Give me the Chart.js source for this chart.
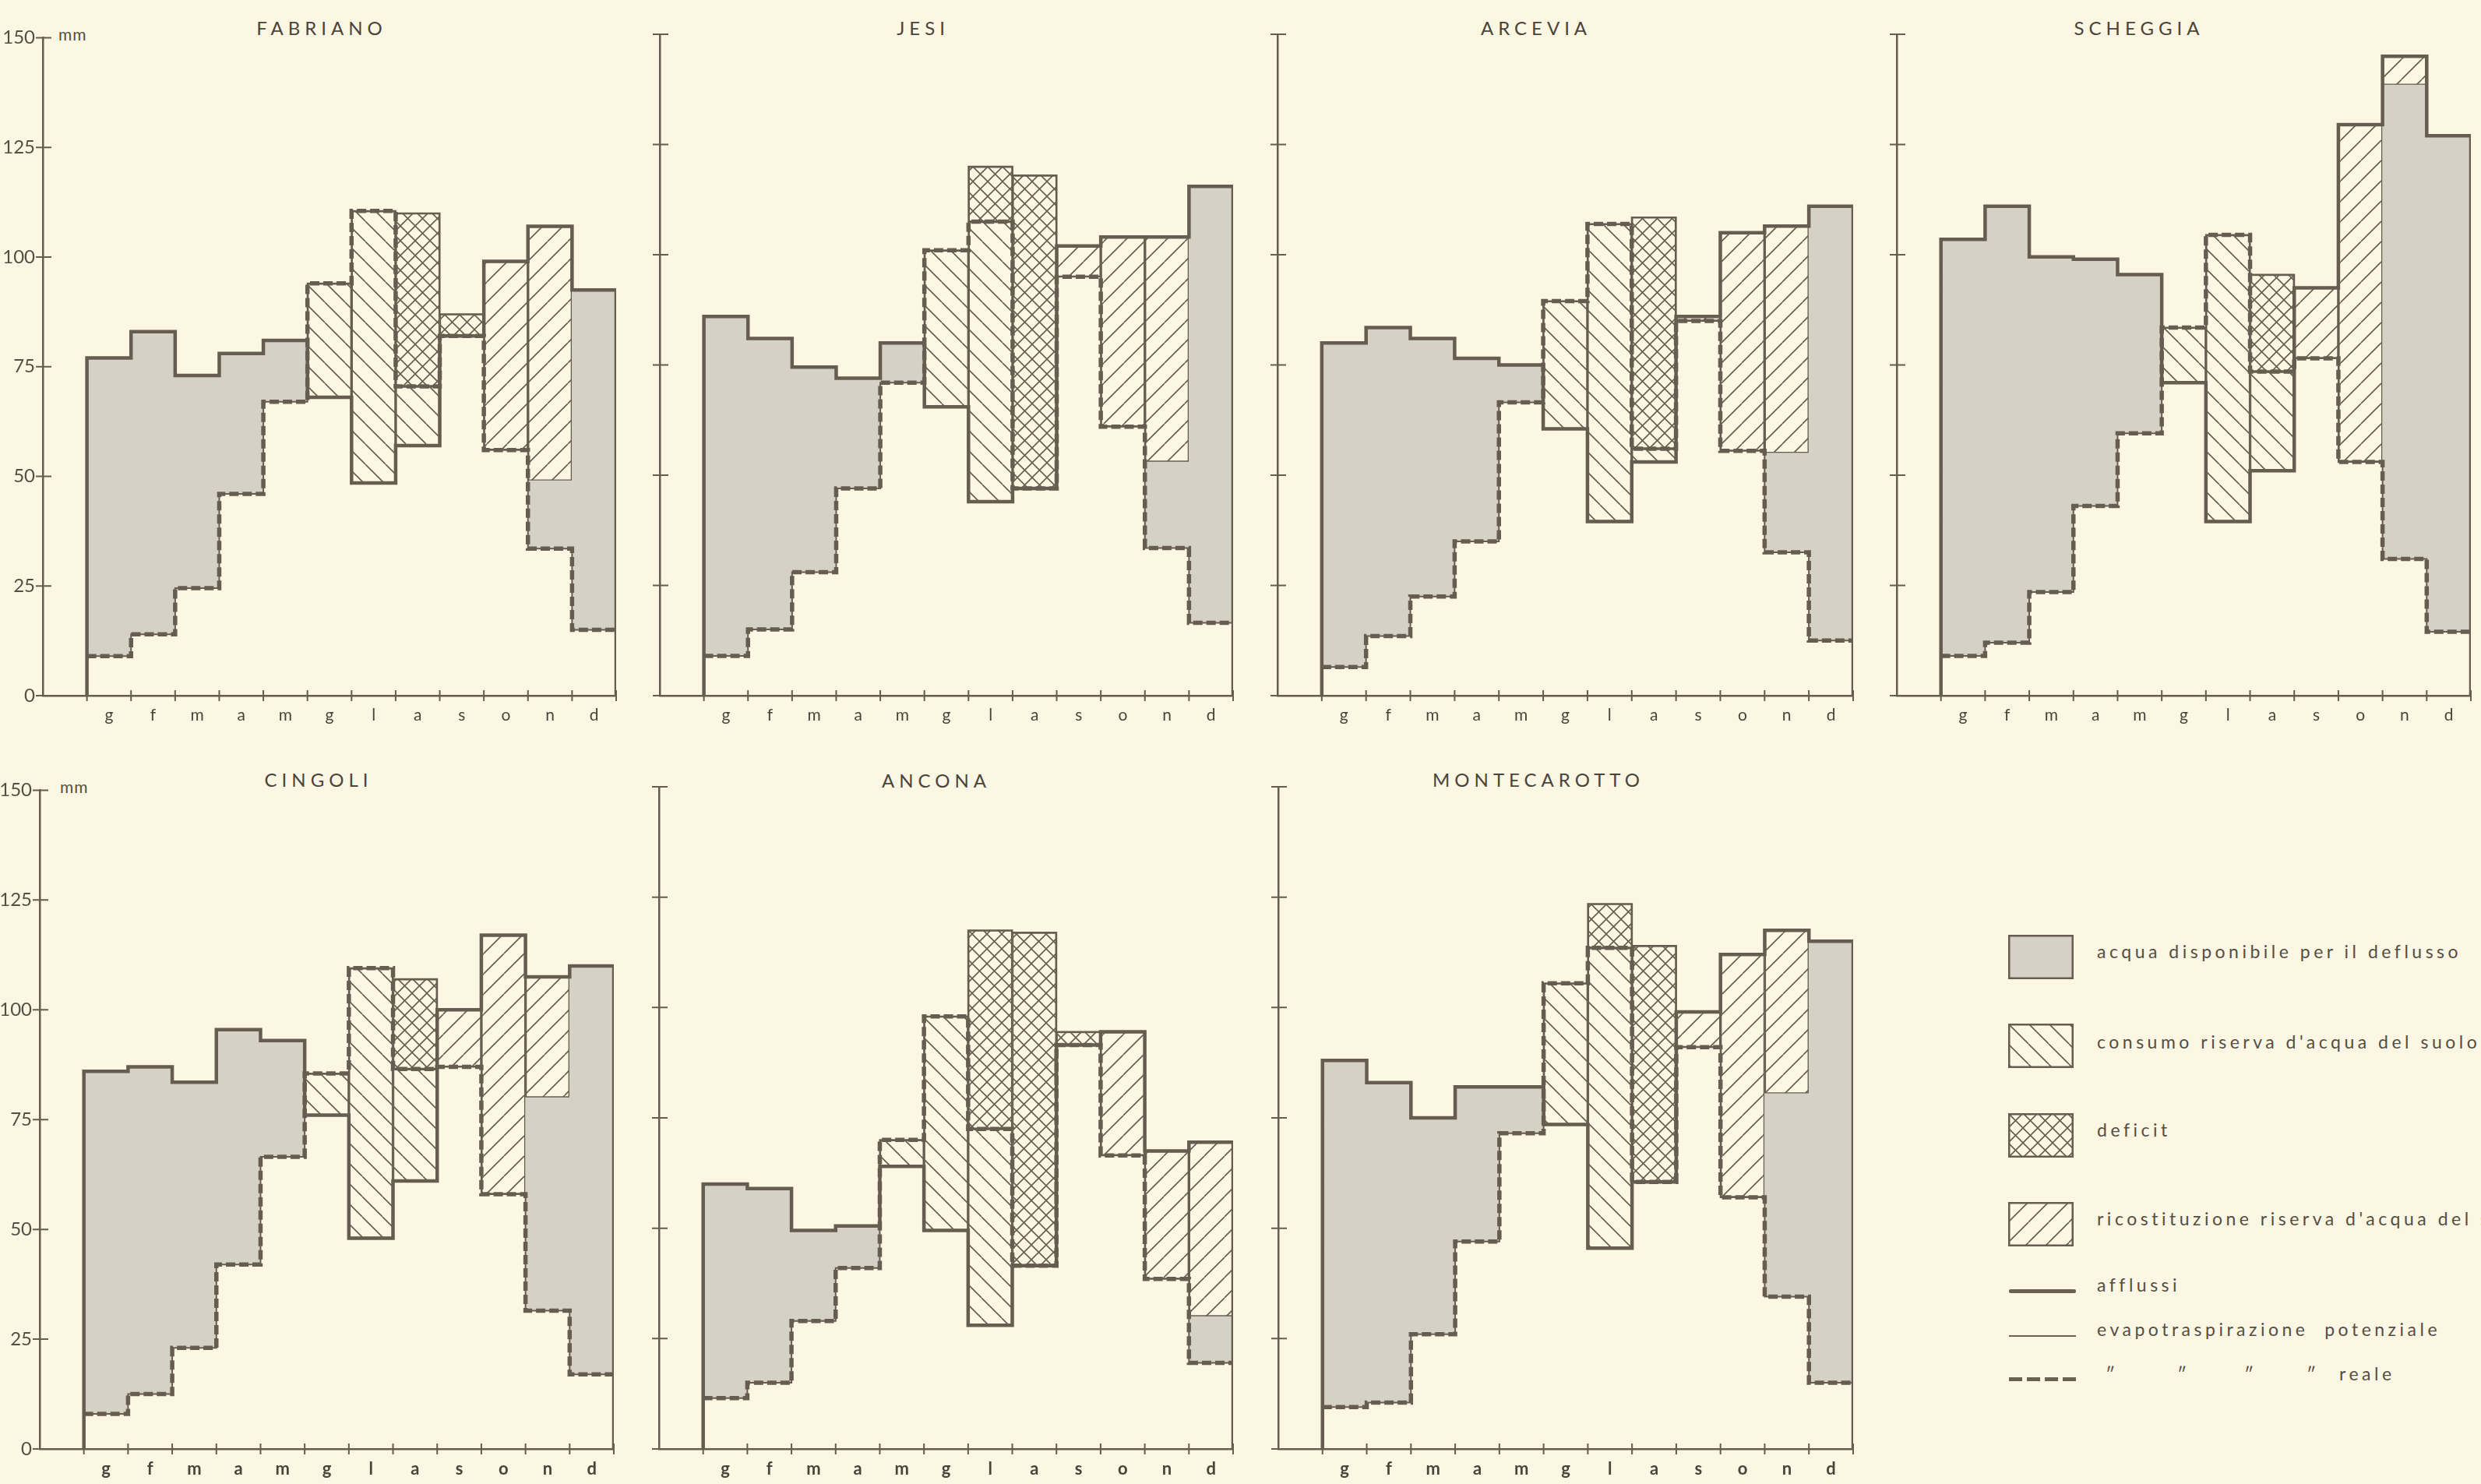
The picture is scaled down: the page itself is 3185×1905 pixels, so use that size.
<!DOCTYPE html>
<html lang="it">
<head>
<meta charset="UTF-8">
<title>Bilancio idrico - stazioni delle Marche</title>
<script src="https://cdn.jsdelivr.net/npm/chart.js"></script>
<style>
  body { margin: 0; width: 3185px; height: 1905px; overflow: hidden; position: relative;
         background: #fbf7e3; font-family: Lato, "Open Sans", sans-serif; color: #554e44; }
  canvas { position: absolute; }
  .title { position: absolute; transform: translate(-50%, -50%); font-size: 24px; letter-spacing: 6px; white-space: nowrap; color: #4a443b; }
  .unit { position: absolute; transform: translateY(-50%); font-size: 21px; letter-spacing: 1px; }
  .lt { position: absolute; transform: translateY(-50%); font-size: 23px; letter-spacing: 4.5px; white-space: nowrap; }
  .ln { position: absolute; left: 2579px; width: 86px; }
</style>
</head>
<body>

<div class="title" style="left:413px;top:35px">FABRIANO</div>
<div class="title" style="left:1185px;top:35px">JESI</div>
<div class="title" style="left:1972px;top:35px">ARCEVIA</div>
<div class="title" style="left:2746px;top:35px">SCHEGGIA</div>
<div class="title" style="left:409px;top:1000px">CINGOLI</div>
<div class="title" style="left:1202px;top:1001px">ANCONA</div>
<div class="title" style="left:1975px;top:1000px">MONTECAROTTO</div>

<div class="unit" style="left:75px;top:43px">mm</div>
<div class="unit" style="left:77px;top:1009px">mm</div>

<!-- legenda -->
<canvas id="sw0" width="84" height="57" style="left:2578px;top:1200px"></canvas>
<div class="lt" style="left:2692px;top:1221px">acqua disponibile per il deflusso</div>
<canvas id="sw1" width="84" height="57" style="left:2578px;top:1314px"></canvas>
<div class="lt" style="left:2692px;top:1337px">consumo riserva d'acqua del suolo</div>
<canvas id="sw2" width="84" height="57" style="left:2578px;top:1429px"></canvas>
<div class="lt" style="left:2692px;top:1450px">deficit</div>
<canvas id="sw3" width="84" height="57" style="left:2578px;top:1543px"></canvas>
<div class="lt" style="left:2692px;top:1564px">ricostituzione riserva d'acqua del suolo</div>

<div class="ln" style="top:1655px;height:5px;background:#6a6154;border-radius:2px"></div>
<div class="lt" style="left:2692px;top:1649px">afflussi</div>
<div class="ln" style="top:1714px;height:2px;background:#6a6154"></div>
<div class="lt" style="left:2692px;top:1706px">evapotraspirazione&nbsp; potenziale</div>
<div class="ln" style="top:1768px;height:5px;background:repeating-linear-gradient(to right,#6a6154 0 17px,transparent 17px 23px)"></div>
<div class="lt" style="left:2703px;top:1763px">″</div>
<div class="lt" style="left:2795px;top:1763px">″</div>
<div class="lt" style="left:2881px;top:1763px">″</div>
<div class="lt" style="left:2961px;top:1763px">″</div>
<div class="lt" style="left:3003px;top:1763px">reale</div>

<script>
const BG = '#fbf7e3';
const INK = '#665d50';
const GREY = '#d5d1c5';

const months = ['g', 'f', 'm', 'a', 'm', 'g', 'l', 'a', 's', 'o', 'n', 'd'];
const yTicks = [0, 25, 50, 75, 100, 125, 150];

// valori mensili in mm: afflussi, evapotraspirazione potenziale e reale,
// quota degli afflussi che va a ricostituire la riserva del suolo
const fabrianoAfflussi  = [77, 83, 73, 78, 81, 68, 48.5, 57, 82, 99, 107, 92.5];
const fabrianoPotenz    = [9, 14, 24.5, 46, 67, 94, 110.5, 110, 87, 56, 33.5, 15];
const fabrianoReale     = [9, 14, 24.5, 46, 67, 94, 110.5, 70.5, 82, 56, 33.5, 15];
const fabrianoRicost    = [0, 0, 0, 0, 0, 0, 0, 0, 0, 43, 58, 0];

const jesiAfflussi      = [86, 81, 74.5, 72, 80, 65.5, 44, 47, 102, 104, 104, 115.5];
const jesiPotenz        = [9, 15, 28, 47, 71, 101, 120, 118, 95, 61, 33.5, 16.5];
const jesiReale         = [9, 15, 28, 47, 71, 101, 107.5, 47, 95, 61, 33.5, 16.5];
const jesiRicost        = [0, 0, 0, 0, 0, 0, 0, 0, 7, 43, 51, 0];

const arceviaAfflussi   = [80, 83.5, 81, 76.5, 75, 60.5, 39.5, 53, 86, 105, 106.5, 111];
const arceviaPotenz     = [6.5, 13.5, 22.5, 35, 66.5, 89.5, 107, 108.5, 85, 55.5, 32.5, 12.5];
const arceviaReale      = [6.5, 13.5, 22.5, 35, 66.5, 89.5, 107, 56, 85, 55.5, 32.5, 12.5];
const arceviaRicost     = [0, 0, 0, 0, 0, 0, 0, 0, 1, 49.5, 51.5, 0];

const scheggiaAfflussi  = [103.5, 111, 99.5, 99, 95.5, 71, 39.5, 51, 92.5, 129.5, 145, 127];
const scheggiaPotenz    = [9, 12, 23.5, 43, 59.5, 83.5, 104.5, 95.5, 76.5, 53, 31, 14.5];
const scheggiaReale     = [9, 12, 23.5, 43, 59.5, 83.5, 104.5, 73.5, 76.5, 53, 31, 14.5];
const scheggiaRicost    = [0, 0, 0, 0, 0, 0, 0, 0, 16, 76.5, 6.5, 0];

const cingoliAfflussi   = [86, 87, 83.5, 95.5, 93, 76, 48, 61, 100, 117, 107.5, 110];
const cingoliPotenz     = [8, 12.5, 23, 42, 66.5, 85.5, 109.5, 107, 87, 58, 31.5, 17];
const cingoliReale      = [8, 12.5, 23, 42, 66.5, 85.5, 109.5, 86.5, 87, 58, 31.5, 17];
const cingoliRicost     = [0, 0, 0, 0, 0, 0, 0, 0, 13, 59, 27.5, 0];

const anconaAfflussi    = [60, 59, 49.5, 50.5, 64, 49.5, 28, 41.5, 91.5, 94.5, 67.5, 69.5];
const anconaPotenz      = [11.5, 15, 29, 41, 70, 98, 117.5, 117, 94.5, 66.5, 38.5, 19.5];
const anconaReale       = [11.5, 15, 29, 41, 70, 98, 72.5, 41.5, 91.5, 66.5, 38.5, 19.5];
const anconaRicost      = [0, 0, 0, 0, 0, 0, 0, 0, 0, 28, 29, 39.5];

const montecAfflussi    = [88, 83, 75, 82, 82, 73.5, 45.5, 60.5, 99, 112, 117.5, 115];
const montecPotenz      = [9.5, 10.5, 26, 47, 71.5, 105.5, 123.5, 114, 91, 57, 34.5, 15];
const montecReale       = [9.5, 10.5, 26, 47, 71.5, 105.5, 113.5, 60.5, 91, 57, 34.5, 15];
const montecRicost      = [0, 0, 0, 0, 0, 0, 0, 0, 8, 55, 37, 0];

const stations = [
  { P: fabrianoAfflussi, PE: fabrianoPotenz, AE: fabrianoReale, R: fabrianoRicost },
  { P: jesiAfflussi, PE: jesiPotenz, AE: jesiReale, R: jesiRicost },
  { P: arceviaAfflussi, PE: arceviaPotenz, AE: arceviaReale, R: arceviaRicost },
  { P: scheggiaAfflussi, PE: scheggiaPotenz, AE: scheggiaReale, R: scheggiaRicost },
  { P: cingoliAfflussi, PE: cingoliPotenz, AE: cingoliReale, R: cingoliRicost },
  { P: anconaAfflussi, PE: anconaPotenz, AE: anconaReale, R: anconaRicost },
  { P: montecAfflussi, PE: montecPotenz, AE: montecReale, R: montecRicost },
];

// posizione dell'asse y, del valore 150 e larghezza/altezza dell'area dati
const panels = [
  { axisX: 55,   top: 44,   w: 736, h: 849, labels: true,  bold: false },
  { axisX: 847,  top: 44,   w: 736, h: 849, labels: false, bold: false },
  { axisX: 1640, top: 44,   w: 739, h: 849, labels: false, bold: false },
  { axisX: 2435, top: 44,   w: 737, h: 849, labels: false, bold: false },
  { axisX: 51,   top: 1010, w: 737, h: 850, labels: true,  bold: true },
  { axisX: 846,  top: 1010, w: 737, h: 850, labels: false, bold: true },
  { axisX: 1641, top: 1010, w: 738, h: 850, labels: false, bold: true },
];

const YW = 54, PT = 20, PR = 12, XH = 48;

function hatch(kind, size) {
  const c = document.createElement('canvas');
  c.width = c.height = size;
  const g = c.getContext('2d');
  g.fillStyle = BG;
  g.fillRect(0, 0, size, size);
  g.strokeStyle = INK;
  g.lineWidth = 1.6;
  g.beginPath();
  for (const k of [-size, 0, size]) {
    if (kind !== '/') { g.moveTo(k, 0); g.lineTo(k + size, size); }
    if (kind !== '\\') { g.moveTo(k, size); g.lineTo(k + size, 0); }
  }
  g.stroke();
  return g.createPattern(c, 'repeat');
}

const fills = {
  surplus: GREY,
  consumo: hatch('\\', 26),
  deficit: hatch('x', 19),
  ricost: hatch('/', 26),
};

// spezza ogni mese nei quattro tipi di area
function segments(st) {
  const out = { surplus: [], consumo: [], deficit: [], ricost: [] };
  months.forEach((_, i) => {
    const p = st.P[i], pe = st.PE[i], ae = st.AE[i], r = st.R[i];
    const x = i + 0.5;
    if (p >= pe) {
      if (r > 0) out.ricost.push({ x, y: [p - r, p] });
      if (p - r > pe) out.surplus.push({ x, y: [pe, p - r] });
    } else {
      if (ae > p) out.consumo.push({ x, y: [p, ae] });
      if (pe > ae) out.deficit.push({ x, y: [ae, pe] });
    }
  });
  return out;
}

function steps(vals, closed) {
  const pts = vals.map((v, i) => ({ x: i, y: v }));
  pts.push({ x: 12, y: vals[11] });
  if (closed) {
    pts.unshift({ x: 0, y: 0 });
    pts.push({ x: 12, y: 0 });
  }
  return pts;
}

// tacche che attraversano gli assi
const crossTicks = {
  id: 'crossTicks',
  afterDraw(chart) {
    const { ctx, chartArea: a, scales: { x, y } } = chart;
    ctx.save();
    ctx.strokeStyle = INK;
    ctx.lineWidth = 2;
    ctx.beginPath();
    yTicks.forEach(v => {
      const py = y.getPixelForValue(v);
      ctx.moveTo(a.left - 9, py);
      ctx.lineTo(a.left + 11, py);
    });
    for (let i = 0; i <= 12; i++) {
      const px = x.getPixelForValue(i);
      ctx.moveTo(px, a.bottom - 7);
      ctx.lineTo(px, a.bottom + 7);
    }
    ctx.stroke();
    ctx.restore();
  }
};

function barSet(label, data, fill, border) {
  return {
    type: 'bar', label, data, order: 1,
    backgroundColor: fill,
    borderColor: INK,
    borderWidth: border ? 2 : 0,
    borderSkipped: false,
    grouped: false,
    barPercentage: 1,
    categoryPercentage: 1,
  };
}

function lineSet(label, data, width, dash) {
  return {
    type: 'line', label, data, order: 0,
    stepped: true,
    borderColor: INK,
    borderWidth: width,
    borderDash: dash || [],
    borderJoinStyle: 'miter',
    pointRadius: 0,
    fill: false,
  };
}

stations.forEach((st, k) => {
  const lp = panels[k];
  const cv = document.createElement('canvas');
  cv.width = YW + lp.w + PR;
  cv.height = PT + lp.h + 1 + XH;
  cv.style.left = (lp.axisX - YW) + 'px';
  cv.style.top = (lp.top - PT) + 'px';
  document.body.appendChild(cv);

  const seg = segments(st);
  new Chart(cv, {
    type: 'bar',
    data: {
      datasets: [
        lineSet('afflussi', steps(st.P, true), 4.5),
        lineSet('evapotraspirazione potenziale', steps(st.PE, false), 2),
        lineSet('evapotraspirazione reale', steps(st.AE, false), 5.5, [12, 5]),
        barSet('acqua disponibile per il deflusso', seg.surplus, fills.surplus, false),
        barSet("consumo riserva d'acqua del suolo", seg.consumo, fills.consumo, true),
        barSet('deficit', seg.deficit, fills.deficit, true),
        barSet("ricostituzione riserva d'acqua del suolo", seg.ricost, fills.ricost, true),
      ]
    },
    options: {
      responsive: false,
      animation: false,
      devicePixelRatio: 1,
      layout: { padding: { top: PT, right: PR, left: 0, bottom: 0 } },
      plugins: { legend: { display: false }, tooltip: { enabled: false } },
      scales: {
        x: {
          type: 'linear', min: -1, max: 12, offset: false,
          ticks: { stepSize: 1, display: false },
          grid: { display: false, drawTicks: false },
          border: { display: true, color: INK, width: 2.5 },
          afterFit: s => { s.height = 1; }
        },
        x2: {
          type: 'category', position: 'bottom', weight: 1,
          labels: [''].concat(months), offset: true,
          grid: { display: false, drawTicks: false },
          border: { display: false },
          ticks: {
            padding: 12, color: '#4a443b',
            font: { family: 'Lato', size: lp.bold ? 22 : 21, weight: lp.bold ? 'bold' : 'normal' }
          },
          afterFit: s => { s.height = XH; }
        },
        y: {
          type: 'linear', min: 0, max: 150,
          ticks: {
            stepSize: 25, display: lp.labels, padding: 10, color: '#554e44',
            font: { family: 'Lato', size: 24 }
          },
          grid: { display: false, drawTicks: false },
          border: { display: true, color: INK, width: 2.5 },
          afterFit: s => { s.width = YW; }
        }
      }
    },
    plugins: [crossTicks]
  });
});

// campioni della legenda
['surplus', 'consumo', 'deficit', 'ricost'].forEach((key, i) => {
  const c = document.getElementById('sw' + i);
  const g = c.getContext('2d');
  g.fillStyle = fills[key];
  g.fillRect(0, 0, c.width, c.height);
  g.strokeStyle = INK;
  g.lineWidth = 2.5;
  g.strokeRect(1.25, 1.25, c.width - 2.5, c.height - 2.5);
});
</script>
</body>
</html>
